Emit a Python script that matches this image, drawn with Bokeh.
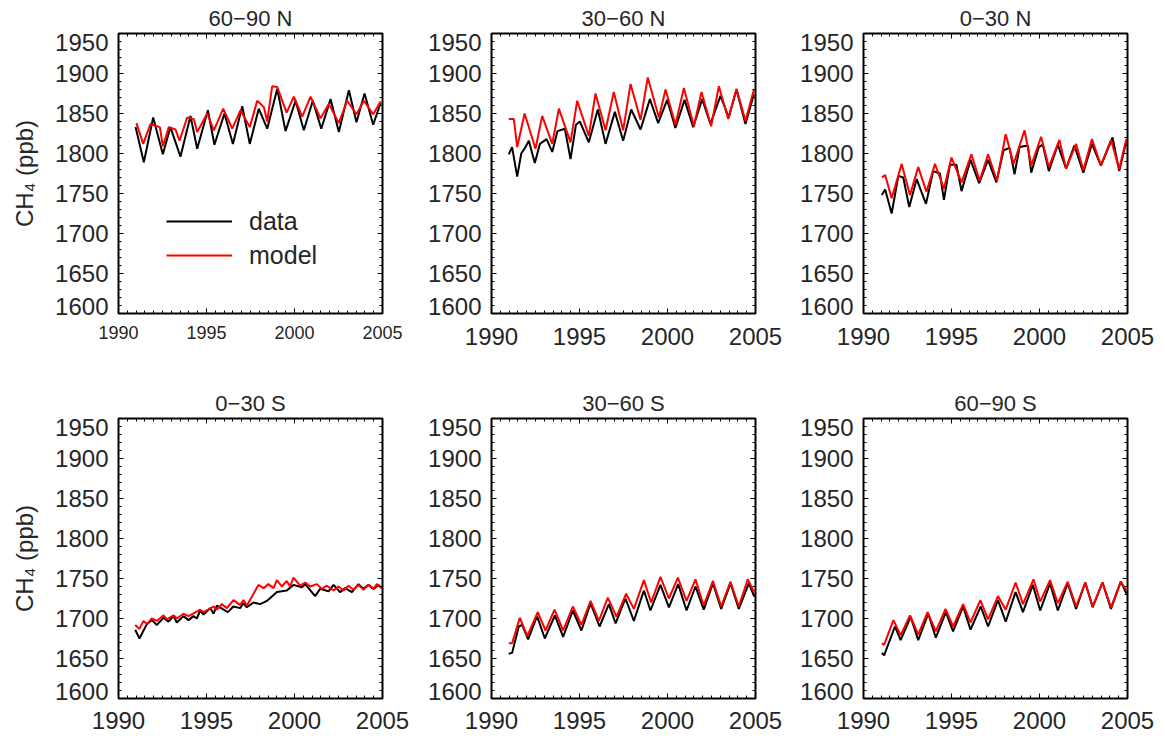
from bokeh.plotting import figure
from bokeh.layouts import column, row
from bokeh.models import FixedTicker, LinearAxis, Range1d, Legend, LegendItem
from bokeh.embed import file_html
from bokeh.resources import INLINE

# ---------------- data ----------------
YEAR_TICKS = [1990, 1995, 2000, 2005]
YEAR_MINOR = [1990 + 0.5 * i for i in range(31)]
CH4_TICKS = [1600, 1650, 1700, 1750, 1800, 1850, 1900, 1950]
CH4_MINOR = list(range(1600, 1951, 10))
CH4_LABEL_AT = [1609, 1650, 1700, 1750, 1800, 1850, 1900, 1939]
CH4_LABEL_TEXT = {1609: "1600", 1939: "1950"}

TITLES = ["60\u221290 N", "30\u221260 N", "0\u221230 N", "0\u221230 S", "30\u221260 S", "60\u221290 S"]

# 60-90 N
T_DATA_6090N = [1990.97, 1991.44, 1991.97, 1992.52, 1992.95, 1993.52, 1994.09, 1994.47, 1995.08, 1995.45,
                1996.02, 1996.50, 1997.03, 1997.46, 1997.97, 1998.45, 1999.02, 1999.49, 2000.06, 2000.53,
                2001.04, 2001.52, 2002.05, 2002.52, 2003.09, 2003.52, 2003.98, 2004.47, 2004.89]
CH4_DATA_6090N = [1833, 1789, 1845, 1799, 1833, 1796, 1847, 1806, 1854, 1811,
                  1850, 1812, 1859, 1812, 1856, 1831, 1881, 1828, 1866, 1829,
                  1866, 1831, 1868, 1827, 1879, 1839, 1875, 1836, 1863]
T_MODEL_6090N = [1991.02, 1991.40, 1991.82, 1992.35, 1992.52, 1992.86, 1993.24, 1993.47, 1993.90, 1994.28,
                 1994.47, 1995.04, 1995.42, 1995.95, 1996.46, 1996.93, 1997.46, 1997.88, 1998.26, 1998.45,
                 1998.73, 1999.02, 1999.55, 1999.96, 2000.44, 2000.91, 2001.48, 2001.95, 2002.52, 2002.99,
                 2003.52, 2003.94, 2004.47, 2004.89]
CH4_MODEL_6090N = [1838, 1812, 1837, 1833, 1809, 1833, 1830, 1816, 1845, 1843,
                   1827, 1850, 1829, 1856, 1831, 1854, 1833, 1866, 1858, 1840,
                   1884, 1883, 1851, 1871, 1846, 1871, 1844, 1862, 1838, 1866,
                   1849, 1866, 1849, 1865]

# 30-60 N
T_DATA_3060N = [1990.98, 1991.17, 1991.46, 1991.69, 1991.93, 1992.12, 1992.46, 1992.75, 1993.13, 1993.45,
                1993.75, 1994.17, 1994.49, 1994.80, 1995.02, 1995.53, 1996.04, 1996.48, 1997.01, 1997.48,
                1997.94, 1998.47, 1999.00, 1999.47, 1999.98, 2000.45, 2000.97, 2001.46, 2001.97, 2002.44,
                2003.01, 2003.48, 2003.92, 2004.43, 2004.91]
CH4_DATA_3060N = [1799, 1808, 1771, 1800, 1808, 1816, 1788, 1812, 1818, 1802,
                  1828, 1831, 1793, 1836, 1840, 1814, 1855, 1812, 1852, 1816,
                  1855, 1830, 1868, 1838, 1867, 1832, 1867, 1833, 1868, 1837,
                  1872, 1845, 1880, 1837, 1874]
T_MODEL_3060N = [1990.98, 1991.27, 1991.46, 1991.88, 1992.50, 1992.88, 1993.45, 1993.83, 1994.49, 1994.87,
                 1995.53, 1995.91, 1996.48, 1996.95, 1997.48, 1997.90, 1998.47, 1998.88, 1999.51, 1999.89,
                 2000.45, 2000.93, 2001.50, 2001.93, 2002.48, 2002.92, 2003.45, 2003.92, 2004.43, 2004.91]
CH4_MODEL_3060N = [1843, 1843, 1808, 1850, 1806, 1847, 1812, 1856, 1814, 1866,
                   1822, 1875, 1829, 1877, 1829, 1887, 1842, 1895, 1845, 1880,
                   1836, 1882, 1834, 1877, 1834, 1884, 1843, 1881, 1841, 1880]

# 0-30 N
T_DATA_0030N = [1991.04, 1991.23, 1991.60, 1991.98, 1992.26, 1992.60, 1993.02, 1993.55, 1993.96, 1994.34,
                1994.57, 1994.91, 1995.28, 1995.57, 1996.08, 1996.57, 1997.08, 1997.55, 1997.96, 1998.30,
                1998.58, 1998.87, 1999.34, 1999.53, 1999.96, 2000.19, 2000.53, 2001.04, 2001.51, 2001.98,
                2002.49, 2002.98, 2003.49, 2004.15, 2004.53, 2004.94]
CH4_DATA_0030N = [1748, 1755, 1725, 1772, 1770, 1733, 1768, 1737, 1778, 1775,
                  1742, 1786, 1786, 1753, 1792, 1763, 1792, 1764, 1804, 1807,
                  1774, 1808, 1810, 1776, 1808, 1811, 1778, 1811, 1781, 1810,
                  1776, 1812, 1785, 1820, 1778, 1816]
T_MODEL_0030N = [1991.04, 1991.23, 1991.60, 1992.17, 1992.64, 1993.11, 1993.58, 1994.06, 1994.57, 1995.00,
                 1995.57, 1996.13, 1996.60, 1997.08, 1997.58, 1998.08, 1998.53, 1999.15, 1999.53, 2000.09,
                 2000.53, 2001.13, 2001.51, 2002.08, 2002.49, 2002.98, 2003.49, 2004.06, 2004.53, 2004.94]
CH4_MODEL_0030N = [1770, 1773, 1744, 1787, 1748, 1783, 1752, 1787, 1756, 1795,
                   1764, 1799, 1766, 1799, 1766, 1824, 1787, 1829, 1785, 1821,
                   1783, 1817, 1781, 1812, 1779, 1818, 1785, 1817, 1781, 1818]

# 0-30 S
T_DATA_0030S = [1990.95, 1991.19, 1991.61, 1991.89, 1992.18, 1992.56, 1992.84, 1993.13, 1993.31, 1993.69,
                1993.98, 1994.26, 1994.45, 1994.64, 1994.83, 1995.21, 1995.40, 1995.59, 1996.21, 1996.53,
                1996.91, 1997.10, 1997.29, 1997.67, 1998.05, 1998.43, 1999.00, 1999.56, 1999.94, 2000.42,
                2000.61, 2001.17, 2001.46, 2001.93, 2002.22, 2002.59, 2002.88, 2003.26, 2003.64, 2003.92,
                2004.20, 2004.49, 2004.77, 2004.96]
CH4_DATA_0030S = [1686, 1675, 1693, 1698, 1692, 1701, 1696, 1703, 1695, 1703,
                  1698, 1703, 1700, 1710, 1705, 1713, 1706, 1716, 1708, 1715,
                  1713, 1719, 1714, 1720, 1718, 1722, 1733, 1735, 1742, 1739,
                  1743, 1728, 1737, 1734, 1742, 1733, 1738, 1733, 1743, 1737,
                  1742, 1737, 1742, 1738]
T_MODEL_0030S = [1990.95, 1991.19, 1991.42, 1991.61, 1991.89, 1992.18, 1992.56, 1992.75, 1993.13, 1993.31,
                 1993.69, 1993.98, 1994.64, 1994.83, 1995.40, 1995.59, 1995.87, 1996.16, 1996.53, 1996.91,
                 1997.10, 1997.29, 1997.67, 1997.95, 1998.24, 1998.52, 1998.81, 1999.00, 1999.28, 1999.56,
                 1999.75, 1999.94, 2000.32, 2000.61, 2000.89, 2001.27, 2001.55, 2001.84, 2002.22, 2002.50,
                 2002.78, 2003.07, 2003.35, 2003.64, 2003.92, 2004.20, 2004.49, 2004.68, 2004.96]
CH4_MODEL_0030S = [1692, 1687, 1697, 1693, 1700, 1697, 1704, 1699, 1704, 1700,
                   1706, 1703, 1711, 1708, 1715, 1711, 1718, 1713, 1723, 1717,
                   1723, 1716, 1731, 1742, 1738, 1743, 1738, 1748, 1740, 1747,
                   1740, 1751, 1741, 1745, 1740, 1743, 1737, 1741, 1735, 1740,
                   1735, 1741, 1736, 1742, 1736, 1742, 1737, 1743, 1738]

# 30-60 S
T_DATA_3060S = [1990.98, 1991.17, 1991.55, 1991.74, 1992.08, 1992.59, 1993.03, 1993.60, 1994.07, 1994.62,
                1995.11, 1995.63, 1996.14, 1996.67, 1997.05, 1997.61, 1998.09, 1998.66, 1999.03, 1999.60,
                2000.08, 2000.61, 2001.08, 2001.59, 2002.06, 2002.58, 2003.05, 2003.58, 2004.05, 2004.62,
                2004.94]
CH4_DATA_3060S = [1656, 1657, 1690, 1692, 1674, 1703, 1675, 1704, 1677, 1710,
                  1685, 1719, 1690, 1718, 1694, 1725, 1697, 1735, 1710, 1742,
                  1714, 1743, 1710, 1740, 1711, 1744, 1712, 1744, 1712, 1744,
                  1727]
T_MODEL_3060S = [1990.98, 1991.17, 1991.61, 1992.03, 1992.63, 1993.07, 1993.58, 1994.07, 1994.62, 1995.11,
                 1995.63, 1996.10, 1996.61, 1997.10, 1997.65, 1998.09, 1998.66, 1999.07, 1999.60, 2000.08,
                 2000.59, 2001.08, 2001.59, 2002.06, 2002.58, 2003.05, 2003.58, 2004.05, 2004.56, 2004.94]
CH4_MODEL_3060S = [1669, 1669, 1701, 1678, 1708, 1685, 1711, 1685, 1715, 1692,
                   1722, 1697, 1726, 1702, 1731, 1712, 1748, 1720, 1752, 1725,
                   1751, 1722, 1749, 1716, 1747, 1715, 1746, 1715, 1749, 1732]

# 60-90 S
T_DATA_6090S = [1991.04, 1991.17, 1991.79, 1992.11, 1992.68, 1993.11, 1993.68, 1994.11, 1994.68, 1995.09,
                1995.66, 1996.08, 1996.66, 1997.08, 1997.64, 1998.08, 1998.64, 1999.06, 1999.62, 2000.04,
                2000.60, 2001.04, 2001.60, 2002.08, 2002.60, 2003.02, 2003.58, 2004.06, 2004.62, 2004.94]
CH4_DATA_6090S = [1657, 1654, 1690, 1673, 1702, 1673, 1706, 1676, 1708, 1684,
                  1715, 1686, 1715, 1690, 1723, 1696, 1733, 1708, 1742, 1710,
                  1744, 1710, 1744, 1712, 1745, 1714, 1745, 1712, 1746, 1731]
T_MODEL_6090S = [1991.04, 1991.17, 1991.70, 1992.11, 1992.64, 1993.11, 1993.64, 1994.11, 1994.66, 1995.09,
                 1995.66, 1996.08, 1996.64, 1997.08, 1997.64, 1998.08, 1998.64, 1999.06, 1999.66, 2000.04,
                 2000.60, 2001.04, 2001.60, 2002.08, 2002.60, 2003.02, 2003.58, 2004.06, 2004.62, 2004.94]
CH4_MODEL_6090S = [1669, 1667, 1698, 1679, 1704, 1680, 1708, 1684, 1712, 1690,
                   1718, 1695, 1723, 1699, 1728, 1711, 1745, 1718, 1749, 1721,
                   1748, 1719, 1746, 1715, 1745, 1715, 1745, 1714, 1746, 1735]

# ---------------- styling ----------------
FONT = "Liberation Sans"
TXT = "#262626"
FRAME_W, FRAME_H = 264, 280


def tick_style(ax):
    ax.axis_line_color = None
    ax.major_tick_in = 5
    ax.major_tick_out = 0
    ax.minor_tick_in = 3
    ax.minor_tick_out = 0
    ax.major_tick_line_color = "black"
    ax.minor_tick_line_color = "black"
    ax.major_tick_line_width = 1
    ax.minor_tick_line_width = 1


def hide_labels(ax, ticks):
    # ticks-only axis: every major label replaced by an empty string
    ax.major_label_overrides = {t: "" for t in ticks}
    ax.major_label_text_font_size = "1px"
    ax.major_label_standoff = 0


def make_panel(title, td, vd, tm, vm, left, right, top, bottom,
               xfont, xstand, ylabel=False, legend=False):
    p = figure(frame_width=FRAME_W, frame_height=FRAME_H,
               x_range=Range1d(1990, 2005), y_range=Range1d(1600, 1950),
               min_border_left=left, min_border_right=right,
               min_border_top=top, min_border_bottom=bottom,
               output_backend="svg", toolbar_location=None,
               title=title)
    p.grid.visible = False
    p.outline_line_color = "black"
    p.outline_line_width = 2
    p.background_fill_color = "white"
    p.border_fill_color = "white"

    p.title.align = "center"
    p.title.text_font = FONT
    p.title.text_font_size = "22px"
    p.title.text_font_style = "normal"
    p.title.text_color = TXT
    p.title.standoff = 6

    xt = FixedTicker(ticks=YEAR_TICKS, minor_ticks=YEAR_MINOR)
    yt = FixedTicker(ticks=CH4_TICKS, minor_ticks=CH4_MINOR)

    # bottom axis (labels)
    bx = p.xaxis[0]
    bx.ticker = xt
    tick_style(bx)
    bx.major_label_text_font = FONT
    bx.major_label_text_font_size = xfont
    bx.major_label_text_color = TXT
    bx.major_label_standoff = xstand

    # top axis (ticks only)
    tx = LinearAxis(ticker=xt)
    tick_style(tx)
    hide_labels(tx, YEAR_TICKS)
    p.add_layout(tx, "above")

    # inner left axis (ticks only)
    ly = p.yaxis[0]
    ly.ticker = yt
    tick_style(ly)
    hide_labels(ly, CH4_TICKS)

    # right axis (ticks only)
    ry = LinearAxis(ticker=yt)
    tick_style(ry)
    hide_labels(ry, CH4_TICKS)
    p.add_layout(ry, "right")

    # outer left axis: labels only
    lab = LinearAxis(ticker=FixedTicker(ticks=CH4_LABEL_AT, minor_ticks=[]))
    lab.axis_line_color = None
    lab.major_tick_line_color = None
    lab.minor_tick_line_color = None
    lab.major_tick_in = 0
    lab.major_tick_out = 0
    lab.minor_tick_in = 0
    lab.minor_tick_out = 0
    lab.major_label_overrides = dict(CH4_LABEL_TEXT)
    lab.major_label_text_font = FONT
    lab.major_label_text_font_size = "24px"
    lab.major_label_text_color = TXT
    lab.major_label_standoff = 10
    if ylabel:
        lab.axis_label = "CH\u2084 (ppb)"
        lab.axis_label_text_font = FONT
        lab.axis_label_text_font_size = "24px"
        lab.axis_label_text_font_style = "normal"
        lab.axis_label_text_color = TXT
        lab.axis_label_standoff = 14
    p.add_layout(lab, "left")

    rd = p.line(td, vd, line_color="black", line_width=2)
    rm = p.line(tm, vm, line_color="red", line_width=2)

    if legend:
        lg = Legend(items=[LegendItem(label="data", renderers=[rd]),
                           LegendItem(label="model", renderers=[rm])],
                    location=(48, 43))
        lg.border_line_color = None
        lg.background_fill_alpha = 0
        lg.padding = 0
        lg.margin = 0
        lg.spacing = 4
        lg.glyph_width = 66
        lg.glyph_height = 30
        lg.label_standoff = 17
        lg.label_text_font = FONT
        lg.label_text_font_size = "25px"
        lg.label_text_color = TXT
        p.add_layout(lg)
    return p


p1 = make_panel(TITLES[0], T_DATA_6090N, CH4_DATA_6090N, T_MODEL_6090N, CH4_MODEL_6090N,
                118, 30, 33, 71, "18px", 12, ylabel=True, legend=True)
p2 = make_panel(TITLES[1], T_DATA_3060N, CH4_DATA_3060N, T_MODEL_3060N, CH4_MODEL_3060N,
                79, 29, 33, 71, "24px", 14)
p3 = make_panel(TITLES[2], T_DATA_0030N, CH4_DATA_0030N, T_MODEL_0030N, CH4_MODEL_0030N,
                79, 30, 33, 71, "24px", 14)
p4 = make_panel(TITLES[3], T_DATA_0030S, CH4_DATA_0030S, T_MODEL_0030S, CH4_MODEL_0030S,
                118, 30, 34, 44, "24px", 13, ylabel=True)
p5 = make_panel(TITLES[4], T_DATA_3060S, CH4_DATA_3060S, T_MODEL_3060S, CH4_MODEL_3060S,
                79, 29, 34, 44, "24px", 13)
p6 = make_panel(TITLES[5], T_DATA_6090S, CH4_DATA_6090S, T_MODEL_6090S, CH4_MODEL_6090S,
                79, 30, 34, 44, "24px", 13)

layout = column(row(p1, p2, p3), row(p4, p5, p6))

with open("out.html", "w") as f:
    f.write(file_html(layout, INLINE))
